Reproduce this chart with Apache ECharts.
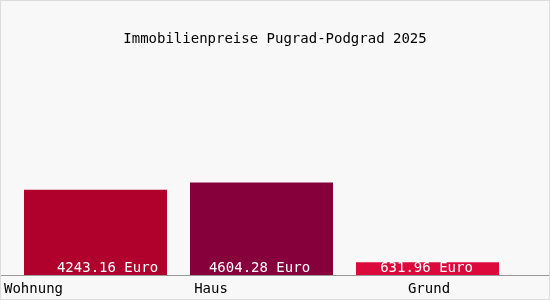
<!DOCTYPE html>
<html><head><meta charset="utf-8">
<script src="https://cdn.jsdelivr.net/npm/echarts@6/dist/echarts.min.js"></script>
<style>html,body{margin:0;padding:0;background:#f8f8f8}#c{width:550px;height:300px;box-sizing:border-box;border:1px solid #dcdcdc}</style>
</head><body><div id="c"></div>
<script>
const titleText = 'Immobilienpreise Pugrad-Podgrad 2025';
const categories = ['Wohnung', 'Haus', 'Grund'];
const values = [4243.16, 4604.28, 631.96];
const unit = 'Euro';

const barColors = ['#b0002c', '#86003c', '#dc0a3c'];
const catPad = [[0, 124, 0, 0], [0, 101, 0, 0], [0, 0, 0, 3]];
const valOffset = [[12, 0], [-2, 0], [-1, 0]];
const FONT = 'DejaVu Sans Mono';

const rich = {};
categories.forEach((c, i) => { rich['c' + i] = { padding: catPad[i], fontFamily: FONT, fontSize: 14, color: '#000' }; });

const chart = echarts.init(document.getElementById('c'), null, { renderer: 'canvas' });
chart.setOption({
  backgroundColor: '#f8f8f8',
  animation: false,
  title: { text: titleText, left: 'center', top: 26, textStyle: { fontFamily: FONT, fontSize: 14, fontWeight: 'normal', color: '#000' } },
  grid: [
    { left: 11.5, width: 498, top: 50, bottom: 24, containLabel: false },
    { left: -1, right: -1, top: 50, bottom: 24, containLabel: false }
  ],
  xAxis: [{
    type: 'category', data: categories, gridIndex: 0,
    axisLine: { show: false },
    axisTick: { show: false },
    axisLabel: {
      margin: 7, interval: 0,
      formatter: (v, i) => '{c' + i + '|' + v + '}',
      rich: rich
    }
  }, {
    type: 'category', data: [], gridIndex: 1,
    axisLine: { lineStyle: { color: '#999', width: 1 } },
    axisTick: { show: false }, axisLabel: { show: false }
  }],
  yAxis: [
    { type: 'value', min: 0, max: 11140, show: false, gridIndex: 0, splitLine: { show: false } },
    { type: 'value', min: 0, max: 1, show: false, gridIndex: 1, splitLine: { show: false } }
  ],
  series: [{
    type: 'bar', barWidth: 143, xAxisIndex: 0, yAxisIndex: 0,
    data: values.map((v, i) => ({
      value: v,
      itemStyle: { color: barColors[i] },
      label: { offset: valOffset[i] }
    })),
    label: {
      show: true, position: 'insideBottom', distance: 0,
      formatter: p => p.value.toFixed(2) + ' ' + unit,
      fontFamily: FONT, fontSize: 14, color: '#fff'
    }
  }]
});
</script></body></html>
